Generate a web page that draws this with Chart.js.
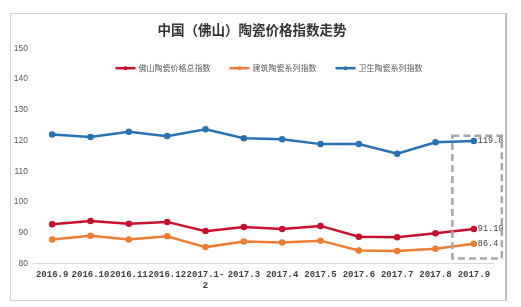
<!DOCTYPE html>
<html>
<head>
<meta charset="utf-8">
<script src="https://cdn.jsdelivr.net/npm/chart.js@4.4.1/dist/chart.umd.min.js"></script>
<style>
  html, body { margin: 0; padding: 0; background: #fff; }
  #frame {
    position: absolute; left: 10px; top: 13px;
    width: 494px; height: 286px;
    border: 1px solid #d4d4d4; border-right: 2px solid #bdbdbd;
  }
  canvas { display: block; }
</style>
</head>
<body>
<div id="frame"><canvas id="priceChart"></canvas></div>
<script>
  'use strict';

  const chartTitle = '中国（佛山）陶瓷价格指数走势';
  const categories = ['2016.9', '2016.10', '2016.11', '2016.12', ['2017.1-', '2'], '2017.3',
    '2017.4', '2017.5', '2017.6', '2017.7', '2017.8', '2017.9'];
  const seriesNames = ['佛山陶瓷价格总指数', '建筑陶瓷系列指数', '卫生陶瓷系列指数'];
  const totalIndex = [92.7, 93.8, 92.9, 93.5, 90.5, 91.8, 91.2, 92.2, 88.7, 88.5, 89.8, 91.19];
  const buildingIndex = [87.8, 89.0, 87.8, 88.8, 85.3, 87.1, 86.8, 87.4, 84.2, 84.0, 84.8, 86.4];
  const sanitaryIndex = [121.9, 121.1, 122.8, 121.4, 123.6, 120.7, 120.4, 118.8, 118.8, 115.7, 119.4, 119.8];
  const endLabels = ['91.19', '86.4', '119.8'];
  const yTicks = [80, 90, 100, 110, 120, 130, 140, 150];
  // highlight box around the latest month: [from index, to index], [from value, to value]
  const boxIndexRange = [10.44, 11.73];
  const boxValueRange = [81.6, 121.5];

  const colors = ['#c8102e', '#ed7d31', '#2672b5'];

  const topLegend = {
    id: 'topLegend',
    afterDraw(chart) {
      const ctx = chart.ctx;
      const area = chart.chartArea;
      ctx.save();
      ctx.font = '8px "Noto Sans CJK SC"';
      ctx.textBaseline = 'middle';
      const lineW = 20;
      const gap = 19;
      const items = chart.data.datasets.map(ds => ({ ds, w: lineW + 3 + ctx.measureText(ds.label).width }));
      const total = items.reduce((s, it) => s + it.w, 0) + gap * (items.length - 1);
      let x = (area.left + area.right) / 2 + 6 - total / 2;
      const y = area.top + 20;
      items.forEach(it => {
        ctx.strokeStyle = it.ds.borderColor;
        ctx.lineWidth = 2.5;
        ctx.beginPath();
        ctx.moveTo(x, y);
        ctx.lineTo(x + lineW, y);
        ctx.stroke();
        ctx.fillStyle = it.ds.borderColor;
        ctx.beginPath();
        ctx.arc(x + lineW / 2, y, 2, 0, Math.PI * 2);
        ctx.fill();
        ctx.fillStyle = '#595959';
        ctx.fillText(it.ds.label, x + lineW + 3, y);
        x += it.w + gap;
      });
      ctx.restore();
    }
  };

  const endLabelsAndBox = {
    id: 'endLabelsAndBox',
    afterDatasetsDraw(chart) {
      const ctx = chart.ctx;
      const xs = chart.scales.x;
      const ys = chart.scales.y;
      ctx.save();
      ctx.font = '8.5px "Liberation Mono"';
      ctx.fillStyle = '#404040';
      ctx.textBaseline = 'middle';
      chart.data.datasets.forEach((ds, i) => {
        const meta = chart.getDatasetMeta(i);
        const pt = meta.data[meta.data.length - 1];
        ctx.fillText(endLabels[i], pt.x + 4, pt.y);
      });

      const x0 = xs.getPixelForValue(boxIndexRange[0]);
      const x1 = xs.getPixelForValue(boxIndexRange[1]);
      const y0 = ys.getPixelForValue(boxValueRange[1]);
      const y1 = ys.getPixelForValue(boxValueRange[0]);
      ctx.strokeStyle = '#a6a6a6';
      ctx.lineWidth = 2.5;
      ctx.setLineDash([7, 4]);
      ctx.strokeRect(x0, y0, x1 - x0, y1 - y0);
      ctx.restore();
    }
  };

  function makeDataset(label, data, color) {
    return {
      label: label,
      data: data,
      borderColor: color,
      backgroundColor: color,
      borderWidth: 2.5,
      pointRadius: 2,
      pointHoverRadius: 2,
      tension: 0
    };
  }

  const ctx = document.getElementById('priceChart').getContext('2d');
  new Chart(ctx, {
    type: 'line',
    data: {
      labels: categories,
      datasets: [
        makeDataset(seriesNames[0], totalIndex, colors[0]),
        makeDataset(seriesNames[1], buildingIndex, colors[1]),
        makeDataset(seriesNames[2], sanitaryIndex, colors[2])
      ]
    },
    options: {
      responsive: true,
      maintainAspectRatio: false,
      animation: false,
      layout: { padding: { left: 0, right: 12, top: 0, bottom: 3 } },
      plugins: {
        legend: { display: false },
        tooltip: { enabled: false },
        title: {
          display: true,
          text: chartTitle,
          color: '#333333',
          font: { family: '"Noto Sans CJK SC"', size: 13.5, weight: 'bold' },
          padding: { top: 8, bottom: 10 }
        }
      },
      scales: {
        x: {
          offset: true,
          grid: { display: false, drawTicks: false },
          border: { display: true, color: '#d9d9d9', width: 1 },
          ticks: {
            autoSkip: false,
            maxRotation: 0,
            minRotation: 0,
            padding: 6,
            color: '#404040',
            font: { family: '"Liberation Mono"', size: 9, weight: 'bold', lineHeight: 1.2 }
          }
        },
        y: {
          min: yTicks[0],
          max: yTicks[yTicks.length - 1],
          afterBuildTicks: axis => { axis.ticks = yTicks.map(v => ({ value: v })); },
          afterFit: axis => { axis.width = 22; },
          grid: { display: false, drawTicks: false },
          border: { display: false },
          ticks: {
            padding: 5,
            color: '#595959',
            font: { family: '"Liberation Sans"', size: 8.5 }
          }
        }
      }
    },
    plugins: [topLegend, endLabelsAndBox]
  });
</script>
</body>
</html>
